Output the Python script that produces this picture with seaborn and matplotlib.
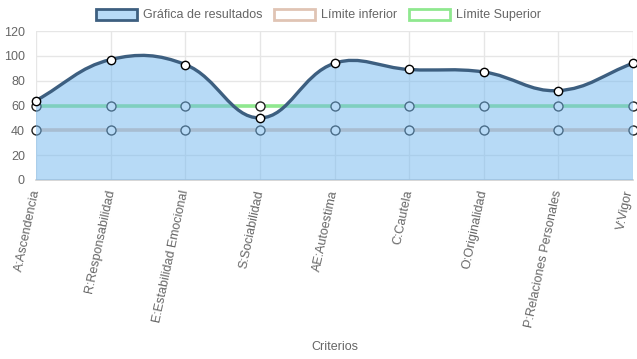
import numpy as np
import pandas as pd
import matplotlib
matplotlib.use("Agg")
import matplotlib.pyplot as plt
import matplotlib.transforms as mtransforms
from matplotlib.path import Path
from matplotlib.patches import PathPatch, Patch
import seaborn as sns

categorias = ["A:Ascendencia", "R:Responsabilidad", "E:Estabilidad Emocional",
              "S:Sociabilidad", "AE:Autoestima", "C:Cautela", "O:Originalidad",
              "P:Relaciones Personales", "V:Vigor"]
resultados = [64, 97, 93, 50, 94, 89, 87, 72, 94]
limite_inferior = [40, 40, 40, 40, 40, 40, 40, 40, 40]
limite_superior = [60, 60, 60, 60, 60, 60, 60, 60, 60]
y_ticks = [0, 20, 40, 60, 80, 100, 120]

sns.set_theme(style="white")
plt.rcParams['font.family'] = ['Liberation Sans', 'DejaVu Sans']

W, H = 637, 359
fig = plt.figure(figsize=(W / 100, H / 100), dpi=100)
L, R, T, B = 36, 633, 31, 180
ax = fig.add_axes([L / W, 1 - B / H, (R - L) / W, (B - T) / H])

x = np.arange(len(categorias))
df = pd.DataFrame({"x": x, "res": resultados, "inf": limite_inferior, "sup": limite_superior})

ax.set_xlim(0, len(categorias) - 1)
ax.set_ylim(0, 120)

# Limit lines (drawn beneath the result fill)
sns.lineplot(data=df, x="x", y="inf", ax=ax, color="#e0c4b4", lw=2.6, zorder=2,
             marker="o", markersize=6.5, markerfacecolor="white",
             markeredgecolor="#222222", markeredgewidth=1.0, clip_on=False)
sns.lineplot(data=df, x="x", y="sup", ax=ax, color="#8fe88f", lw=2.6, zorder=2,
             marker="o", markersize=6.5, markerfacecolor="white",
             markeredgecolor="#222222", markeredgewidth=1.0, clip_on=False)

# Chart.js style spline (tension 0.4), computed in pixel space
sx = (R - L) / (len(categorias) - 1)
sy = (B - T) / 120.0
px = x * sx
py = np.array(resultados, dtype=float) * sy
t = 0.4
n = len(px)
cp_prev = np.zeros((n, 2))
cp_next = np.zeros((n, 2))
for i in range(n):
    cur = np.array([px[i], py[i]])
    prev = np.array([px[i - 1], py[i - 1]]) if i > 0 else cur
    nxt = np.array([px[i + 1], py[i + 1]]) if i < n - 1 else cur
    d01 = np.hypot(*(cur - prev))
    d12 = np.hypot(*(nxt - cur))
    s01 = d01 / (d01 + d12) if (d01 + d12) else 0
    s12 = d12 / (d01 + d12) if (d01 + d12) else 0
    fa, fb = t * s01, t * s12
    cp_prev[i] = cur - fa * (nxt - prev)
    cp_next[i] = cur + fb * (nxt - prev)

def to_data(p):
    return (p[0] / sx, p[1] / sy)

verts = [to_data((px[0], py[0]))]
codes = [Path.MOVETO]
for i in range(n - 1):
    verts += [to_data(cp_next[i]), to_data(cp_prev[i + 1]), to_data((px[i + 1], py[i + 1]))]
    codes += [Path.CURVE4] * 3

fill_verts = verts + [(x[-1], 0), (x[0], 0), verts[0]]
fill_codes = codes + [Path.LINETO, Path.LINETO, Path.CLOSEPOLY]
ax.add_patch(PathPatch(Path(fill_verts, fill_codes), facecolor="#71b7ef", alpha=0.5,
                       edgecolor="none", zorder=3))
ax.add_patch(PathPatch(Path(verts, codes), facecolor="none", edgecolor="#3d5f80",
                       lw=2.4, zorder=4, capstyle="round", clip_on=False))
sns.scatterplot(data=df, x="x", y="res", ax=ax, s=36, color="white", edgecolor="black",
                linewidth=1.0, zorder=5, clip_on=False, legend=False)

# Grid and axes
ax.set_xticks(x)
ax.set_xticklabels([])
base = ax.get_xaxis_transform()
for i, lab in enumerate(categorias):
    dx = -4 if i == len(categorias) - 1 else 0
    tr = base + mtransforms.ScaledTranslation(dx / 100, -10 / 100, fig.dpi_scale_trans)
    ax.text(x[i], 0, lab, transform=tr, rotation=78, rotation_mode="anchor",
            ha="right", va="center", fontsize=9, color="#666666", clip_on=False)
ax.set_yticks(y_ticks)
ax.set_yticklabels([str(v) for v in y_ticks], fontsize=9, color="#666666")
ax.grid(True, color="#e6e6e6", lw=1, zorder=0)
ax.set_axisbelow(True)
for s in ["top", "right", "left"]:
    ax.spines[s].set_visible(False)
ax.spines["bottom"].set_color("#d0d0d0")
ax.spines["bottom"].set_linewidth(1.2)
ax.tick_params(axis="both", length=6, color="#e0e0e0", width=1, pad=2)
ax.set_xlabel("")
ax.set_ylabel("")
fig.text(0.5 * (L + R) / W, 1 - 347 / H, "Criterios", ha="center", va="center",
         fontsize=9, color="#666666")

handles = [Patch(facecolor="#b8dbf7", edgecolor="#3d5f80", lw=2),
           Patch(facecolor="white", edgecolor="#e0c4b4", lw=2),
           Patch(facecolor="white", edgecolor="#8fe88f", lw=2)]
labels = ["Gráfica de resultados", "Límite inferior", "Límite Superior"]
leg = fig.legend(handles, labels, loc="center", bbox_to_anchor=(0.5, 1 - 15 / H), ncol=3,
                 frameon=False, fontsize=9, handlelength=3.3, handleheight=1.0,
                 columnspacing=0.9, handletextpad=0.5, labelcolor="#666666")

fig.savefig("out.png", dpi=100)
